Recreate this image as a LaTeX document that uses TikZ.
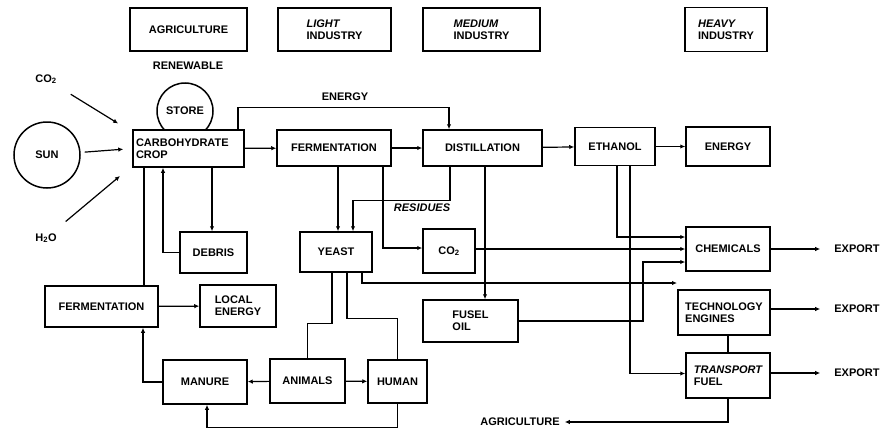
\documentclass[tikz,border=0pt]{standalone}
\usepackage{fontspec}
\setmainfont{Liberation Sans}
\usepackage{tikz}
\usetikzlibrary{arrows.meta}

\begin{document}
\begin{tikzpicture}[
  x=1pt, y=-1pt,
  box/.style={draw, line width=1.5pt, fill=white, align=center, inner sep=3pt, font=\fontsize{11}{12}\selectfont\bfseries},
  lbox/.style={box, align=left},
  lbl/.style={font=\fontsize{11}{12}\selectfont\bfseries, inner sep=2pt},
  ring/.style={draw, circle, line width=1.5pt, fill=white, inner sep=0pt, font=\fontsize{11}{12}\selectfont\bfseries},
  arr/.style={-{Latex[length=5pt,width=4.5pt]}, line width=1.2pt},
  ln/.style={line width=1.2pt}
]
  \useasboundingbox (0,0) rectangle (881,431);

  % sectors along the top
  \node[box, minimum width=117, minimum height=43] (agri) at (188.5,29.5) {AGRICULTURE};
  \node[lbox, minimum width=113, minimum height=43] (light) at (334.5,29.5) {\itshape LIGHT\\INDUSTRY};
  \node[lbox, minimum width=117, minimum height=43] (medium) at (481.5,29.5) {\itshape MEDIUM\\INDUSTRY};
  \node[lbox, minimum width=82, minimum height=44] (heavy) at (726,29.5) {\itshape HEAVY\\INDUSTRY};

  % inputs
  \node[lbl] (renew) at (188,66) {RENEWABLE};
  \node[ring, minimum size=56] (store) at (185,111) {STORE};
  \node[ring, minimum size=66] (sun) at (47,155) {SUN};
  \node[lbl] (co2in) at (46,79) {CO\textsubscript{2}};
  \node[lbl] (h2oin) at (46,238) {H\textsubscript{2}O};

  % main chain
  \node[lbox, text width=105, minimum height=37] (carb) at (188.5,148.5) {CARBOHYDRATE\\CROP};
  \node[box, minimum width=114, minimum height=36] (ferm) at (334,148) {FERMENTATION};
  \node[box, minimum width=119, minimum height=36] (dist) at (482.5,148) {DISTILLATION};
  \node[box, minimum width=80, minimum height=38] (eth) at (615,146.5) {ETHANOL};
  \node[box, minimum width=84, minimum height=39] (energy) at (728,146.5) {ENERGY};

  % by-products
  \node[box, minimum width=67, minimum height=41] (debris) at (213.5,252.5) {DEBRIS};
  \node[box, minimum width=72, minimum height=40] (yeast) at (336,252) {YEAST};
  \node[box, minimum width=52, minimum height=44] (co2) at (449,251) {CO\textsubscript{2}};
  \node[box, minimum width=84, minimum height=44] (chem) at (728,249) {CHEMICALS};
  \node[box, minimum width=113, minimum height=41] (ferm2) at (101.5,306.5) {FERMENTATION};
  \node[lbox, minimum width=76, minimum height=42] (local) at (238,306) {LOCAL\\ENERGY};
  \node[lbox, minimum width=95, minimum height=42] (fusel) at (470.5,321) {FUSEL\\OIL};
  \node[lbox, minimum width=92, minimum height=45] (tech) at (724,312.5) {TECHNOLOGY\\ENGINES};
  \node[lbox, minimum width=84, minimum height=45] (trans) at (728,375.5) {\itshape TRANSPORT\\FUEL};
  \node[box, minimum width=84, minimum height=44] (manure) at (205,382) {MANURE};
  \node[box, minimum width=75, minimum height=44] (animals) at (307.5,381) {ANIMALS};
  \node[box, minimum width=59, minimum height=43] (human) at (397.5,381.5) {HUMAN};

  % free labels
  \node[lbl] (enlbl) at (345,97) {ENERGY};
  \node[lbl, font=\fontsize{11}{12}\selectfont\bfseries\itshape] (reslbl) at (422,208) {RESIDUES};
  \node[lbl] (ex1) at (857,249) {EXPORT};
  \node[lbl] (ex2) at (857,309) {EXPORT};
  \node[lbl] (ex3) at (857,373) {EXPORT};
  \node[lbl] (agrout) at (520,422) {AGRICULTURE};
  \coordinate (yend) at (677,283);
  \coordinate (fbend) at (643,262);

  % into the crop
  \draw[arr, shorten <=16pt, shorten >=1pt] (co2in) -- (119,124);
  \draw[arr, shorten <=4pt, shorten >=9pt] (sun) -- (carb.west);
  \draw[arr, shorten <=15pt] (h2oin) -- (120,176);

  % main chain
  \draw[arr] (carb) -- (ferm);
  \draw[arr] (ferm) -- (dist);
  \draw[arr] (dist) -- (eth);
  \draw[arr] (eth) -- (energy);
  \draw[arr] ([xshift=49.5]carb.north) -- ++(0,-22) -| ([xshift=-33.5]dist.north);

  % crop side
  \draw[ln] ([xshift=-44.5]carb.south) -- ([xshift=-44.5]carb.south |- ferm2.north);
  \draw[arr] (debris.west) -| ([xshift=-25.5]carb.south);
  \draw[arr] ([xshift=23.5]carb.south) -- ([xshift=23.5]carb.south |- debris.north);
  \draw[arr] (ferm2) -- (local);
  \draw[arr] (manure.west) -| ([xshift=41.5]ferm2.south);

  % fermentation and distillation products
  \draw[arr] ([xshift=4]ferm.south) -- ([xshift=4]ferm.south |- yeast.north);
  \draw[arr] ([xshift=49]ferm.south) |- ([yshift=3]co2.west);
  \draw[arr] ([xshift=-32.5]dist.south) -- ++(0,34) -| ([xshift=17]yeast.north);
  \draw[arr] ([xshift=2.5]dist.south) -- ([xshift=2.5]dist.south |- fusel.north);
  \draw[arr] ([yshift=2]co2.east) -- ([yshift=2]co2.east -| chem.west);
  \draw[arr] ([xshift=2]eth.south) |- ([yshift=12]chem.west);
  \draw[arr] ([xshift=15]eth.south) |- ([yshift=2]trans.west);
  \draw[arr] ([xshift=26]yeast.south) |- (yend);
  \draw[arr] (fusel.east) -| (fbend) -- (fbend -| chem.west);
  \draw[ln] (trans.north |- tech.south) -- (trans.north);

  % food chain
  \draw[ln] ([xshift=-4]yeast.south) -- ++(0,51) -| (animals.north);
  \draw[ln] ([xshift=11]yeast.south) -- ++(0,46) -| (human.north);
  \draw[arr] (animals) -- (manure);
  \draw[arr] (animals) -- (human);
  \draw[arr] (human.south) -- ++(0,24) -| ([xshift=2]manure.south);

  % outputs
  \draw[arr, shorten >=12pt] (chem.east) -- (ex1.west);
  \draw[arr, shorten >=12pt] ([yshift=3.5]tech.east) -- (ex2.west);
  \draw[arr, shorten >=12pt] ([yshift=2.5]trans.east) -- (ex3.west);
  \draw[arr, shorten >=3pt] (trans.south) |- (agrout.east);
\end{tikzpicture}
\end{document}
